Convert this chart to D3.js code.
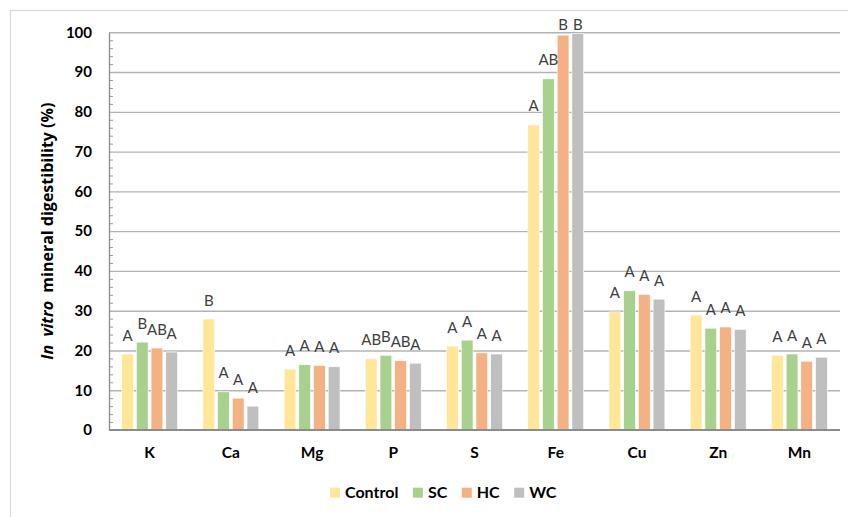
<!DOCTYPE html>
<html>
<head>
<meta charset="utf-8">
<script src="https://cdn.jsdelivr.net/npm/d3@7"></script>
<style>
  html, body { margin: 0; padding: 0; background: #fff; }
  svg { display: block; font-family: Lato, "Open Sans", sans-serif; }
</style>
</head>
<body>
<svg id="chart" width="848" height="517"></svg>
<script>
// Minerals on the x axis
const minerals = ["K", "Ca", "Mg", "P", "S", "Fe", "Cu", "Zn", "Mn"];
// Treatments (series)
const treatments = ["Control", "SC", "HC", "WC"];
const colors = ["#FFE699", "#A9D18E", "#F4B183", "#BFBFBF"];

// In vitro digestibility (%) per treatment, in mineral order
const control = [19.1, 27.9, 15.3, 17.9, 21.1, 76.7, 29.7, 28.9, 18.8];
const sc      = [22.1,  9.6, 16.4, 18.8, 22.6, 88.3, 35.0, 25.6, 19.1];
const hc      = [20.6,  8.0, 16.2, 17.4, 19.4, 99.3, 34.1, 25.9, 17.3];
const wc      = [19.6,  6.0, 15.9, 16.8, 19.1, 99.7, 32.9, 25.3, 18.3];

// Significance letters per treatment
const lettersControl = ["A", "B", "A", "AB", "A", "A", "A", "A", "A"];
const lettersSC      = ["B", "A", "A", "B", "A", "AB", "A", "A", "A"];
const lettersHC      = ["AB", "A", "A", "AB", "A", "B", "A", "A", "A"];
const lettersWC      = ["A", "A", "A", "A", "A", "B", "A", "A", "A"];

const yTicks = [0, 10, 20, 30, 40, 50, 60, 70, 80, 90, 100];

const seriesValues = [control, sc, hc, wc];
const seriesLetters = [lettersControl, lettersSC, lettersHC, lettersWC];

const rows = minerals.map((m, i) => ({
  mineral: m,
  bars: treatments.map((t, j) => ({
    treatment: t, value: seriesValues[j][i], letter: seriesLetters[j][i], color: colors[j]
  }))
}));

const svg = d3.select("#chart");
const plot = { left: 109, right: 840, top: 32.3, bottom: 430 };

// Chart frame
svg.append("rect")
  .attr("x", 10.5).attr("y", 10.5).attr("width", 900).attr("height", 600)
  .attr("fill", "none").attr("stroke", "#D9D9D9").attr("stroke-width", 1.3);

const x0 = d3.scaleBand().domain(minerals).range([plot.left, plot.right])
  .paddingInner(0.276).paddingOuter(0.138);
const x1 = d3.scaleBand().domain(treatments).range([0, x0.bandwidth()])
  .paddingInner(0.2).paddingOuter(0.1);
const y = d3.scaleLinear().domain([0, 100]).range([plot.bottom, plot.top]);

// Horizontal gridlines
svg.append("g")
  .attr("transform", `translate(${plot.left},0)`)
  .call(d3.axisRight(y).tickValues(yTicks.filter(v => v > 0))
    .tickSize(plot.right - plot.left).tickFormat(""))
  .call(g => g.select(".domain").remove())
  .call(g => g.selectAll("line").attr("stroke", "#B3B3B3").attr("stroke-width", 1.4));

// Minor ticks every 2 units
const minor = d3.range(0, 100, 2).filter(v => v % 10 !== 0);
svg.append("g")
  .attr("transform", `translate(${plot.left},0)`)
  .call(d3.axisRight(y).tickValues(minor).tickSize(4).tickFormat(""))
  .call(g => g.select(".domain").remove())
  .call(g => g.selectAll("line").attr("stroke", "#9A9A9A").attr("stroke-width", 1));

// Y axis with labels
svg.append("g")
  .attr("transform", `translate(${plot.left},0)`)
  .call(d3.axisLeft(y).tickValues(yTicks).tickSize(0).tickPadding(17).tickFormat(d3.format("d")))
  .call(g => g.select(".domain").attr("stroke", "#8C8C8C").attr("stroke-width", 1.3))
  .call(g => g.selectAll("text")
    .attr("fill", "#000").attr("font-size", 15).attr("font-weight", "bold")
    .attr("font-family", "Lato, 'Open Sans', sans-serif"));

// Bars
const groups = svg.append("g").selectAll("g").data(rows).join("g")
  .attr("transform", d => `translate(${x0(d.mineral)},0)`);

groups.selectAll("rect").data(d => d.bars).join("rect")
  .attr("x", d => x1(d.treatment))
  .attr("y", d => y(d.value))
  .attr("width", x1.bandwidth())
  .attr("height", d => y(0) - y(d.value))
  .attr("fill", d => d.color)
  .attr("stroke", "#fff").attr("stroke-width", 0.6);

// Significance letters above bars (kept inside the plot top)
groups.selectAll("text").data(d => d.bars).join("text")
  .attr("x", d => x1(d.treatment) + x1.bandwidth() / 2)
  .attr("y", d => Math.max(y(d.value) - 13.5, 30))
  .attr("text-anchor", "middle")
  .attr("font-size", 15)
  .attr("fill", "#404040")
  .text(d => d.letter);

// X axis
svg.append("g")
  .attr("transform", `translate(0,${plot.bottom})`)
  .call(d3.axisBottom(x0).tickSize(0).tickPadding(17))
  .call(g => g.select(".domain").attr("stroke", "#8C8C8C").attr("stroke-width", 2)
    .attr("d", `M${plot.left},0H${plot.right}`))
  .call(g => g.selectAll("text")
    .attr("fill", "#000").attr("font-size", 15.5).attr("font-weight", "bold")
    .attr("font-family", "Lato, 'Open Sans', sans-serif"));

// Y axis title
const title = svg.append("text")
  .attr("transform", `translate(53,${(plot.top + plot.bottom) / 2}) rotate(-90)`)
  .attr("text-anchor", "middle")
  .attr("font-family", "'Open Sans', sans-serif")
  .attr("font-size", 16).attr("font-weight", "bold").attr("fill", "#000");
title.append("tspan").attr("font-style", "italic").text("In\u00a0 vitro");
title.append("tspan").text("\u00a0 mineral digestibility (%)");

// Legend
const legend = svg.append("g").attr("transform", "translate(330,0)");
let lx = 0;
treatments.forEach((t, i) => {
  const item = legend.append("g").attr("transform", `translate(${lx},0)`);
  item.append("rect").attr("x", 0).attr("y", 487.7).attr("width", 10).attr("height", 10)
    .attr("fill", colors[i]);
  const txt = item.append("text").attr("x", 15).attr("y", 497.7)
    .attr("font-size", 16).attr("font-weight", "bold").attr("fill", "#000").text(t);
  lx += 15 + txt.node().getComputedTextLength() + 14.5;
});
</script>
</body>
</html>
